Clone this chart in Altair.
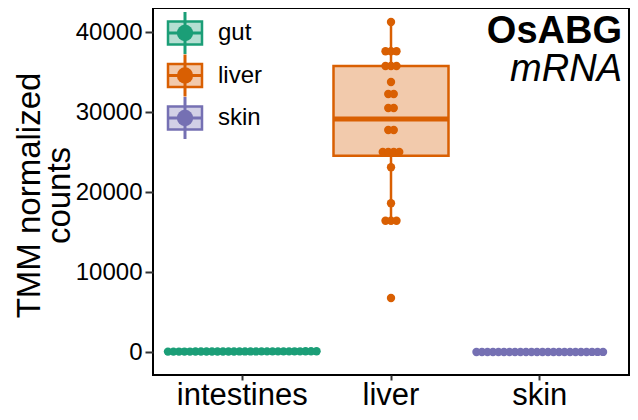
import altair as alt
import numpy as np
import pandas as pd

# ---------------- data ----------------
tissues = ["intestines", "liver", "skin"]
organs = ["gut", "liver", "skin"]
colors = ["#1B9E77", "#D95F02", "#7570B3"]

gut_counts = [60, 75, 55, 90, 70, 65, 80, 50, 85, 60, 70, 95, 55, 75,
              65, 80, 60, 70, 90, 50, 85, 65, 75, 60, 70, 80, 55, 65]
liver_counts = [41250, 37600, 37600, 37600, 35750, 35750, 35750, 33750,
                32250, 32250, 30500, 30500, 27750, 27750, 25000, 25000,
                25000, 25000, 23100, 18600, 16400, 16400, 16400, 6750]
skin_counts = [5, 3, 8, 2, 6, 4, 7, 3, 5, 9, 2, 6, 4, 5, 3, 7, 6, 2, 8, 4,
               5, 3, 6, 4]
y_ticks = [0, 10000, 20000, 30000, 40000]


def swarm_offsets(values, gap=600.0, step=0.037):
    """Spread nearly equal values side by side (beeswarm-like)."""
    v = np.asarray(values, dtype=float)
    order = np.argsort(v, kind="stable")
    groups = []
    for i in order:
        if groups and v[i] - v[groups[-1][0]] <= gap:
            groups[-1].append(i)
        else:
            groups.append([i])
    offs = np.zeros(len(v))
    for g in groups:
        k = len(g)
        for j, i in enumerate(g):
            offs[i] = (j - (k - 1) / 2) * step
    return offs


rows = []
for tissue, organ, vals in zip(tissues, organs, [gut_counts, liver_counts, skin_counts]):
    for v, o in zip(vals, swarm_offsets(vals)):
        rows.append({"tissue": tissue, "organ": organ, "count": v, "off": o})
df = pd.DataFrame(rows)

ldf = pd.DataFrame({"organ": organs, "lidx": list(range(len(organs)))})

# ---------------- encodings ----------------
W, H = 476, 367
BOXW = 115

x_enc = alt.X(
    "tissue:N", sort=tissues,
    scale=alt.Scale(type="band", domain=tissues, paddingInner=0, paddingOuter=0.1),
    axis=alt.Axis(title=None, labelAngle=0, labelFontSize=31, labelColor="black",
                  tickSize=5, tickWidth=2, tickColor="#333333", labelPadding=0,
                  domain=False),
)
y_scale = alt.Scale(domain=[-2875, 43000], nice=False, zero=False)
y_axis = alt.Axis(
    title=["TMM normalized", "counts"], values=y_ticks, format="d",
    labelFontSize=24, labelColor="black", grid=False, domain=False,
    tickSize=8, tickWidth=2, tickColor="#333333", labelPadding=3,
    titleFontSize=33, titleFontWeight="normal", titleColor="black",
    titleX=-114, titleY=187, titleAngle=270, titleAlign="center",
    titleBaseline="alphabetic", titleLineHeight=30,
)
color_enc = alt.Color("organ:N", scale=alt.Scale(domain=organs, range=colors), legend=None)
stroke_enc = alt.Stroke("organ:N", scale=alt.Scale(domain=organs, range=colors), legend=None)

base = alt.Chart(df)

box_fill = base.mark_boxplot(
    extent=1.5, size=BOXW, outliers=False, ticks=False, rule=False, median=False,
    box={"fillOpacity": 0.33, "strokeWidth": 0},
).encode(x=x_enc, y=alt.Y("count:Q", scale=y_scale, axis=y_axis), color=color_enc)

box_line = base.mark_boxplot(
    extent=1.5, size=BOXW, outliers=False, ticks=False, median=False,
    box={"filled": False, "strokeWidth": 2.5},
    rule={"strokeWidth": 2.5},
).encode(x=x_enc, y=alt.Y("count:Q", scale=y_scale, axis=y_axis),
         color=color_enc, stroke=stroke_enc)

median = base.transform_aggregate(
    med="median(count)", groupby=["tissue", "organ"]
).mark_tick(orient="horizontal", size=BOXW, thickness=5, opacity=1).encode(
    x=x_enc, y=alt.Y("med:Q", scale=y_scale, axis=y_axis), color=color_enc
)

points = base.mark_circle(size=70, opacity=1).encode(
    x=x_enc,
    xOffset=alt.XOffset("off:Q", scale=alt.Scale(domain=[-0.5, 0.5])),
    y=alt.Y("count:Q", scale=y_scale, axis=y_axis),
    color=color_enc,
)

main = alt.layer(box_fill, box_line, median, points)

# ---------------- legend (inside the panel) ----------------
BOX_PATH = "M-1,-0.68L1,-0.68L1,0.68L-1,0.68Z"
ly = alt.Y("lidx:Q", scale=alt.Scale(domain=[0, 2], range=[25, 110]), axis=None)
lbase = alt.Chart(ldf)
LX = 32
leg = alt.layer(
    lbase.mark_tick(orient="vertical", size=42, thickness=3, opacity=1).encode(
        x=alt.value(LX), y=ly, color=color_enc),
    lbase.mark_point(shape=BOX_PATH, size=1156, filled=True, fillOpacity=0.33,
                     strokeWidth=0, opacity=1).encode(
        x=alt.value(LX), y=ly, color=color_enc),
    lbase.mark_point(shape=BOX_PATH, size=1156, filled=False, strokeWidth=2.5,
                     opacity=1).encode(x=alt.value(LX), y=ly, color=color_enc),
    lbase.mark_tick(orient="horizontal", size=34, thickness=3, opacity=1).encode(
        x=alt.value(LX), y=ly, color=color_enc),
    lbase.mark_circle(size=265, opacity=1).encode(
        x=alt.value(LX), y=ly, color=color_enc),
    lbase.mark_text(align="left", baseline="middle", fontSize=24, color="black").encode(
        x=alt.value(65), y=ly, text="organ:N"),
)

# ---------------- corner title ----------------
t1 = alt.Chart(pd.DataFrame({"t": ["OsABG"]})).mark_text(
    align="right", baseline="alphabetic", fontSize=38, fontWeight="bold", color="black"
).encode(x=alt.value(W - 7), y=alt.value(35), text="t:N")
t2 = alt.Chart(pd.DataFrame({"t": ["mRNA"]})).mark_text(
    align="right", baseline="alphabetic", fontSize=38, fontStyle="italic", color="black"
).encode(x=alt.value(W - 7), y=alt.value(73), text="t:N")

chart = alt.layer(main, leg, t1, t2).resolve_scale(y="independent").properties(
    width=W, height=H,
    autosize=alt.AutoSizeParams(type="none"),
    padding={"left": 145, "top": 0, "right": 1, "bottom": 37},
).configure(font="Liberation Sans").configure_view(stroke="black", strokeWidth=2)

chart.save("out.html", embed_options={"renderer": "svg", "actions": False})
